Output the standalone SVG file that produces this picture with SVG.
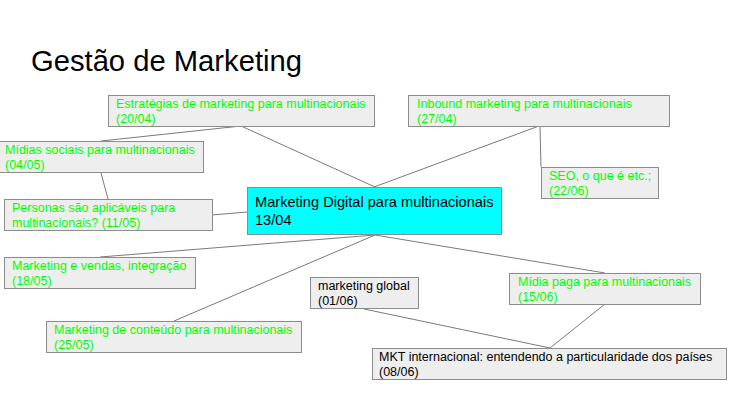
<svg xmlns="http://www.w3.org/2000/svg" width="729" height="415" viewBox="0 0 729 415">
<style>
.bg{fill:#ffffff}
.box{fill:#eeeeee;stroke:#8c8c8c;stroke-width:1}
.main{fill:#00ffff;stroke:#8c8c8c;stroke-width:1}
.t{font-family:"Liberation Sans",Arial,sans-serif;font-size:12.5px;fill:#00ff00}
.tb{font-family:"Liberation Sans",Arial,sans-serif;font-size:12.5px;fill:#000000}
.tm{font-family:"Liberation Sans",Arial,sans-serif;font-size:14.6px;fill:#000000}
.title{font-family:"Liberation Sans",Arial,sans-serif;font-size:29.2px;fill:#000000}
.c{stroke:#7a7a7a;stroke-width:1;fill:none}
</style>
<rect class="bg" x="0" y="0" width="729" height="415"/>
<text class="title" x="31" y="71">Gestão de Marketing</text>
<g id="connectors">
<line class="c" x1="241" y1="126" x2="375" y2="187"/>
<line class="c" x1="241" y1="126" x2="101" y2="141"/>
<line class="c" x1="101" y1="173" x2="108" y2="199"/>
<line class="c" x1="212" y1="215" x2="247" y2="212"/>
<line class="c" x1="539" y1="126" x2="374" y2="187"/>
<line class="c" x1="540" y1="126" x2="541" y2="167"/>
<line class="c" x1="375" y1="235" x2="100" y2="257"/>
<line class="c" x1="375" y1="235" x2="174" y2="321"/>
<line class="c" x1="375" y1="235" x2="605" y2="273"/>
<line class="c" x1="364" y1="309" x2="550" y2="348"/>
<line class="c" x1="605" y1="304" x2="550" y2="348"/>
</g>
<g id="n-estrategias">
<rect class="box" x="108.5" y="95.5" width="266" height="31"/>
<text class="t" x="116" y="108">Estratégias de marketing para multinacionais</text>
<text class="t" x="116" y="123">(20/04)</text>
</g>
<g id="n-inbound">
<rect class="box" x="408.5" y="95.5" width="261" height="31"/>
<text class="t" x="417" y="108">Inbound marketing para multinacionais</text>
<text class="t" x="417" y="123">(27/04)</text>
</g>
<g id="n-midias-sociais">
<rect class="box" x="-0.5" y="141.5" width="204" height="31"/>
<text class="t" x="5" y="154">Mídias sociais para multinacionais</text>
<text class="t" x="5" y="169">(04/05)</text>
</g>
<g id="n-seo">
<rect class="box" x="541.5" y="167.5" width="117" height="31"/>
<text class="t" x="549" y="180">SEO, o que é etc.;</text>
<text class="t" x="549" y="195">(22/06)</text>
</g>
<g id="n-personas">
<rect class="box" x="4.5" y="199.5" width="208" height="31"/>
<text class="t" x="12" y="212">Personas são aplicáveis para</text>
<text class="t" x="12" y="227">multinacionais? (11/05)</text>
</g>
<g id="n-central">
<rect class="main" x="247.5" y="187.5" width="254" height="47"/>
<text class="tm" x="255" y="207">Marketing Digital para multinacionais</text>
<text class="tm" x="255" y="225">13/04</text>
</g>
<g id="n-vendas">
<rect class="box" x="4.5" y="257.5" width="191" height="31"/>
<text class="t" x="12" y="270">Marketing e vendas, integração</text>
<text class="t" x="12" y="285">(18/05)</text>
</g>
<g id="n-global">
<rect class="box" x="310.5" y="277.5" width="108" height="31"/>
<text class="tb" x="318" y="290">marketing global</text>
<text class="tb" x="318" y="305">(01/06)</text>
</g>
<g id="n-midia-paga">
<rect class="box" x="509.5" y="273.5" width="191" height="31"/>
<text class="t" x="518" y="286">Mídia paga para multinacionais</text>
<text class="t" x="518" y="301">(15/06)</text>
</g>
<g id="n-conteudo">
<rect class="box" x="46.5" y="321.5" width="255" height="31"/>
<text class="t" x="54" y="334">Marketing de conteúdo para multinacionais</text>
<text class="t" x="54" y="349">(25/05)</text>
</g>
<g id="n-mkt-internacional">
<rect class="box" x="372.5" y="348.5" width="354" height="31"/>
<text class="tb" x="379" y="361">MKT internacional: entendendo a particularidade dos países</text>
<text class="tb" x="379" y="376">(08/06)</text>
</g>
</svg>
